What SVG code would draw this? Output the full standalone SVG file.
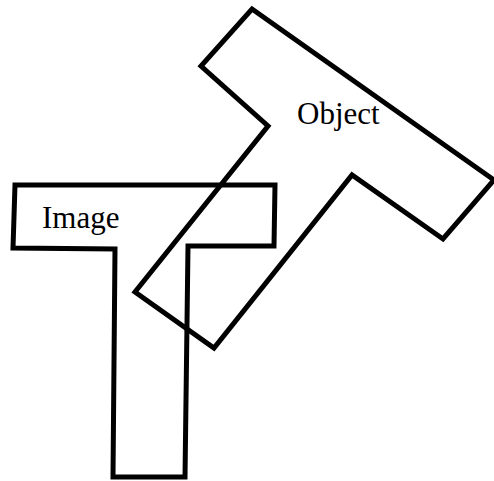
<svg xmlns="http://www.w3.org/2000/svg" width="494" height="481" viewBox="0 0 494 481">
<style>
.shape{fill:none;stroke:#000;stroke-width:5;stroke-linejoin:miter}
.lbl{font-family:"Liberation Serif","Times New Roman",serif;font-size:31px;fill:#000}
</style>
<rect width="494" height="481" fill="#fff"/>
<g id="image">
<polygon class="shape" points="15,185 275,185 274,246 188,246 185,477 113,477 115,249 13,248"/>
<text class="lbl" x="42" y="228">Image</text>
</g>
<g id="object">
<polygon class="shape" points="252,9 494,180 443,239 352,175 214,348 135,292 268,126 201,66"/>
<text class="lbl" x="297" y="124">Object</text>
</g>
<g id="connectors"></g>
</svg>
